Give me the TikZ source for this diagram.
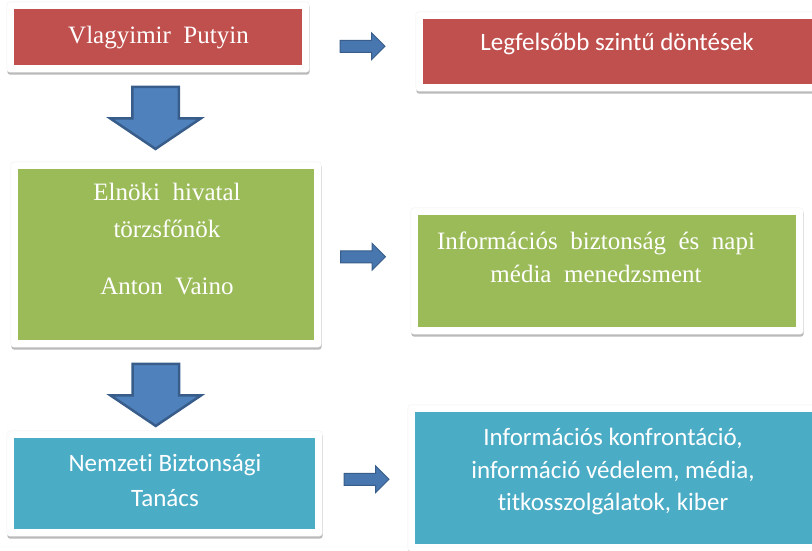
\documentclass[tikz,border=0pt]{standalone}
\usepackage{fontspec}
\setmainfont{Liberation Serif}[WordSpace=2]
\newfontfamily\carlito{Carlito}[Ligatures=NoCommon]
\usepackage{tikz}
\usetikzlibrary{shapes.arrows, shadows, fit, backgrounds, calc}
\definecolor{boxred}{HTML}{C0504D}
\definecolor{boxgreen}{HTML}{9BBB59}
\definecolor{boxblue}{HTML}{4BACC6}
\definecolor{arrowfill}{HTML}{4F81BD}
\definecolor{arrowdraw}{HTML}{385D8A}

\begin{document}
\begin{tikzpicture}[x=1pt, y=-1pt,
  panel/.style={fill=#1, draw=none, inner sep=0pt},
  frame/.style={fill=white, draw=black!6, rounded corners=3pt, inner sep=7pt,
    drop shadow={shadow xshift=0.5pt, shadow yshift=-2.5pt, fill=black!60, opacity=0.45}},
  serif text/.style={text=white, inner sep=0pt, align=center, anchor=north,
    font=\fontsize{25}{37}\selectfont},
  sans text/.style={text=white, inner sep=0pt, align=center, anchor=north,
    font=\carlito\fontsize{25}{35}\selectfont},
  bigarrow/.style={single arrow, fill=arrowfill, draw=arrowdraw, line width=2.5pt,
    minimum height=57pt, inner sep=22pt, single arrow head extend=22pt,
    single arrow tip angle=112, shape border rotate=270},
  smallarrow/.style={single arrow, fill=arrowfill!70!arrowdraw, draw=arrowdraw, line width=1pt,
    minimum height=45pt, inner sep=5.5pt, single arrow head extend=7.5pt}]
  \useasboundingbox (0,0) rectangle (812,550);
  % Boxes
  \node[panel=boxred, minimum width=288pt, minimum height=56pt] (putin) at (158,37) {};
  \node[panel=boxred, minimum width=400pt, minimum height=65pt] (top) at (623,51.5) {};
  \node[panel=boxgreen, minimum width=296pt, minimum height=171pt] (vaino) at (166,254.5) {};
  \node[panel=boxgreen, minimum width=378pt, minimum height=112pt] (media) at (607,271) {};
  \node[panel=boxblue, minimum width=301pt, minimum height=91pt] (nbt) at (164.5,483.5) {};
  \node[panel=boxblue, minimum width=408pt, minimum height=132pt] (kiber) at (619,478) {};
  \begin{scope}[on background layer]
    \foreach \n in {putin, top, vaino, media, nbt, kiber}
      \node[frame, fit=(\n)] (\n-f) {};
  \end{scope}
  % Texts
  \node[serif text] (putin-t) at (158.5,26) {Vlagyimir Putyin};
  \node[sans text] (top-t) at (617,33) {Legfelsőbb szintű döntések};
  \node[serif text] (vaino-t) at (167,183) {Elnöki hivatal\\törzsfőnök\\[20pt]Anton Vaino};
  \node[serif text, font=\fontsize{25}{33}\selectfont] (media-t) at (596,232)
    {Információs biztonság és napi\\média menedzsment};
  \node[sans text] (nbt-t) at (165,454) {Nemzeti Biztonsági\\Tanács};
  \node[sans text, font=\carlito\fontsize{25}{32.5}\selectfont] (kiber-t) at (613,428)
    {Információs konfrontáció,\\információ védelem, média,\\titkosszolgálatok, kiber};
  % Arrows
  \node[bigarrow, xshift=-6.5pt, yshift=7pt] (down1) at ($(putin-f.south)!0.5!(vaino-f.north)$) {};
  \node[bigarrow, xshift=-9.5pt, yshift=2pt] (down2) at ($(vaino-f.south)!0.5!(nbt-f.north)$) {};
  \node[smallarrow, xshift=-3pt, yshift=-2pt] (right1) at ($(putin-f.east)!0.5!(top-f.west)$) {};
  \node[smallarrow, xshift=-6pt, yshift=6pt] (right2) at ($(vaino-f.east)!0.5!(media-f.west)$) {};
  \node[smallarrow, xshift=-1.5pt, yshift=1.5pt] (right3) at ($(nbt-f.east)!0.5!(kiber-f.west)$) {};
\end{tikzpicture}
\end{document}
